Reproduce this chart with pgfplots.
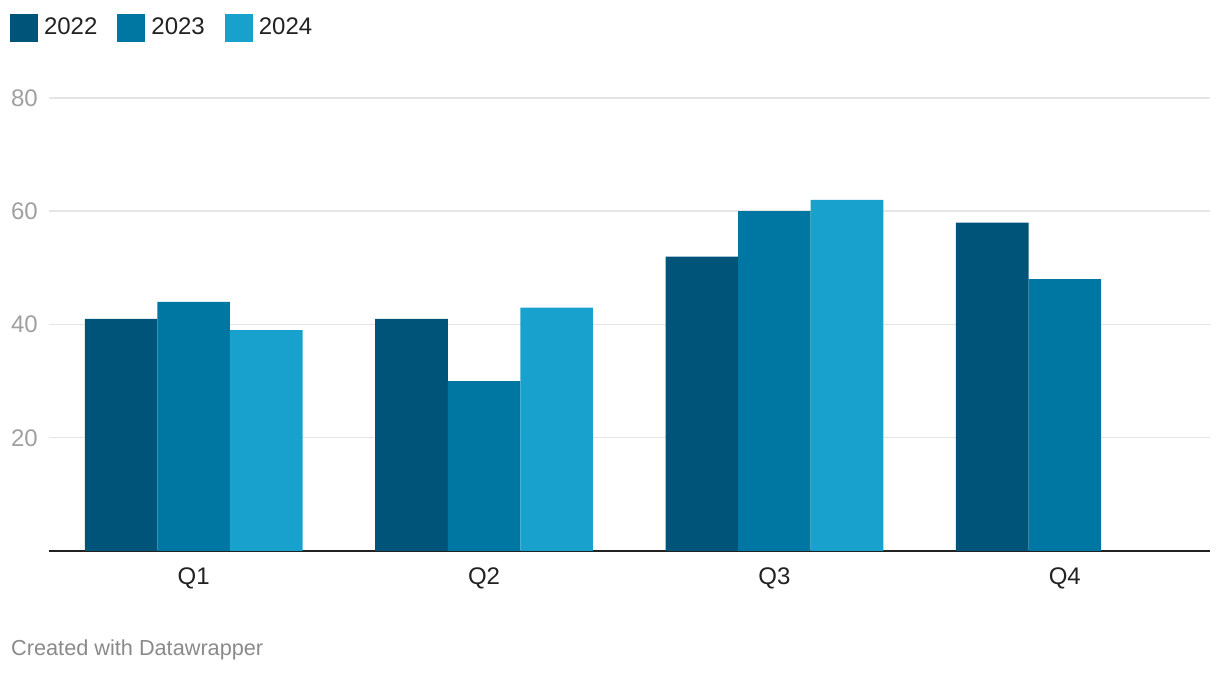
\documentclass[border=0pt]{standalone}
\usepackage{pgfplots}
\pgfplotsset{compat=1.18}
\usepackage{fontspec}
\setmainfont{Liberation Sans}
\definecolor{c22}{HTML}{00547A}
\definecolor{c23}{HTML}{0077A2}
\definecolor{c24}{HTML}{19A1CD}
\definecolor{gridc}{HTML}{E5E5E5}
\definecolor{ytc}{HTML}{A0A0A0}
\definecolor{txtc}{HTML}{222222}
\definecolor{footc}{HTML}{8A8A8A}
\begin{document}
\begin{tikzpicture}
\path (0pt,0pt) rectangle (1220pt,674pt);
\begin{axis}[
  at={(48.5pt,123pt)}, anchor=south west,
  scale only axis, width=1161.5pt, height=453pt,
  xmin=-0.5, xmax=3.5, ymin=0, ymax=80,
  ybar=0pt, bar width=0.25,
  axis x line=bottom, axis y line=left,
  x axis line style={draw=txtc, line width=2pt, -},
  y axis line style={draw=none},
  xtick={0,1,2,3}, xticklabels={Q1,Q2,Q3,Q4},
  ytick={20,40,60,80},
  /pgf/number format/assume math mode=true,
  major tick length=0pt,
  ymajorgrids, grid style={draw=gridc, line width=1.5pt},
  tick label style={font=\fontsize{24}{24}\selectfont},
  xticklabel style={text=txtc, inner sep=0pt, anchor=north, yshift=-16.5pt},
  yticklabel style={text=ytc, inner sep=0pt, anchor=east, xshift=-10.5pt},
  legend columns=-1,
  legend image code/.code={\fill[#1] (0pt,-7.7pt) rectangle (28pt,20.3pt);},
  legend style={at={(-0.0331,1.1854)}, anchor=north west, draw=none, fill=none,
    inner sep=0pt, outer sep=0pt,
    font=\fontsize{24}{24}\selectfont, text=txtc,
    nodes={inner sep=0pt, outer sep=0pt, yshift=7.7pt},
    /tikz/every odd column/.append style={column sep=6pt},
    /tikz/every even column/.append style={column sep=20pt}},
]
\addplot[fill=c22, draw=none, bar shift=-0.25] coordinates {(0,41) (1,41) (2,52) (3,58)};
\addplot[fill=c23, draw=none, bar shift=0] coordinates {(0,44) (1,30) (2,60) (3,48)};
\addplot[fill=c24, draw=none, bar shift=0.25] coordinates {(0,39) (1,43) (2,62)};
\legend{2022,2023,2024}
\end{axis}
\node[anchor=base west, inner sep=0pt, text=footc, font=\fontsize{21.7}{22}\selectfont] at (11pt,18pt) {Created with Datawrapper};
\end{tikzpicture}
\end{document}
